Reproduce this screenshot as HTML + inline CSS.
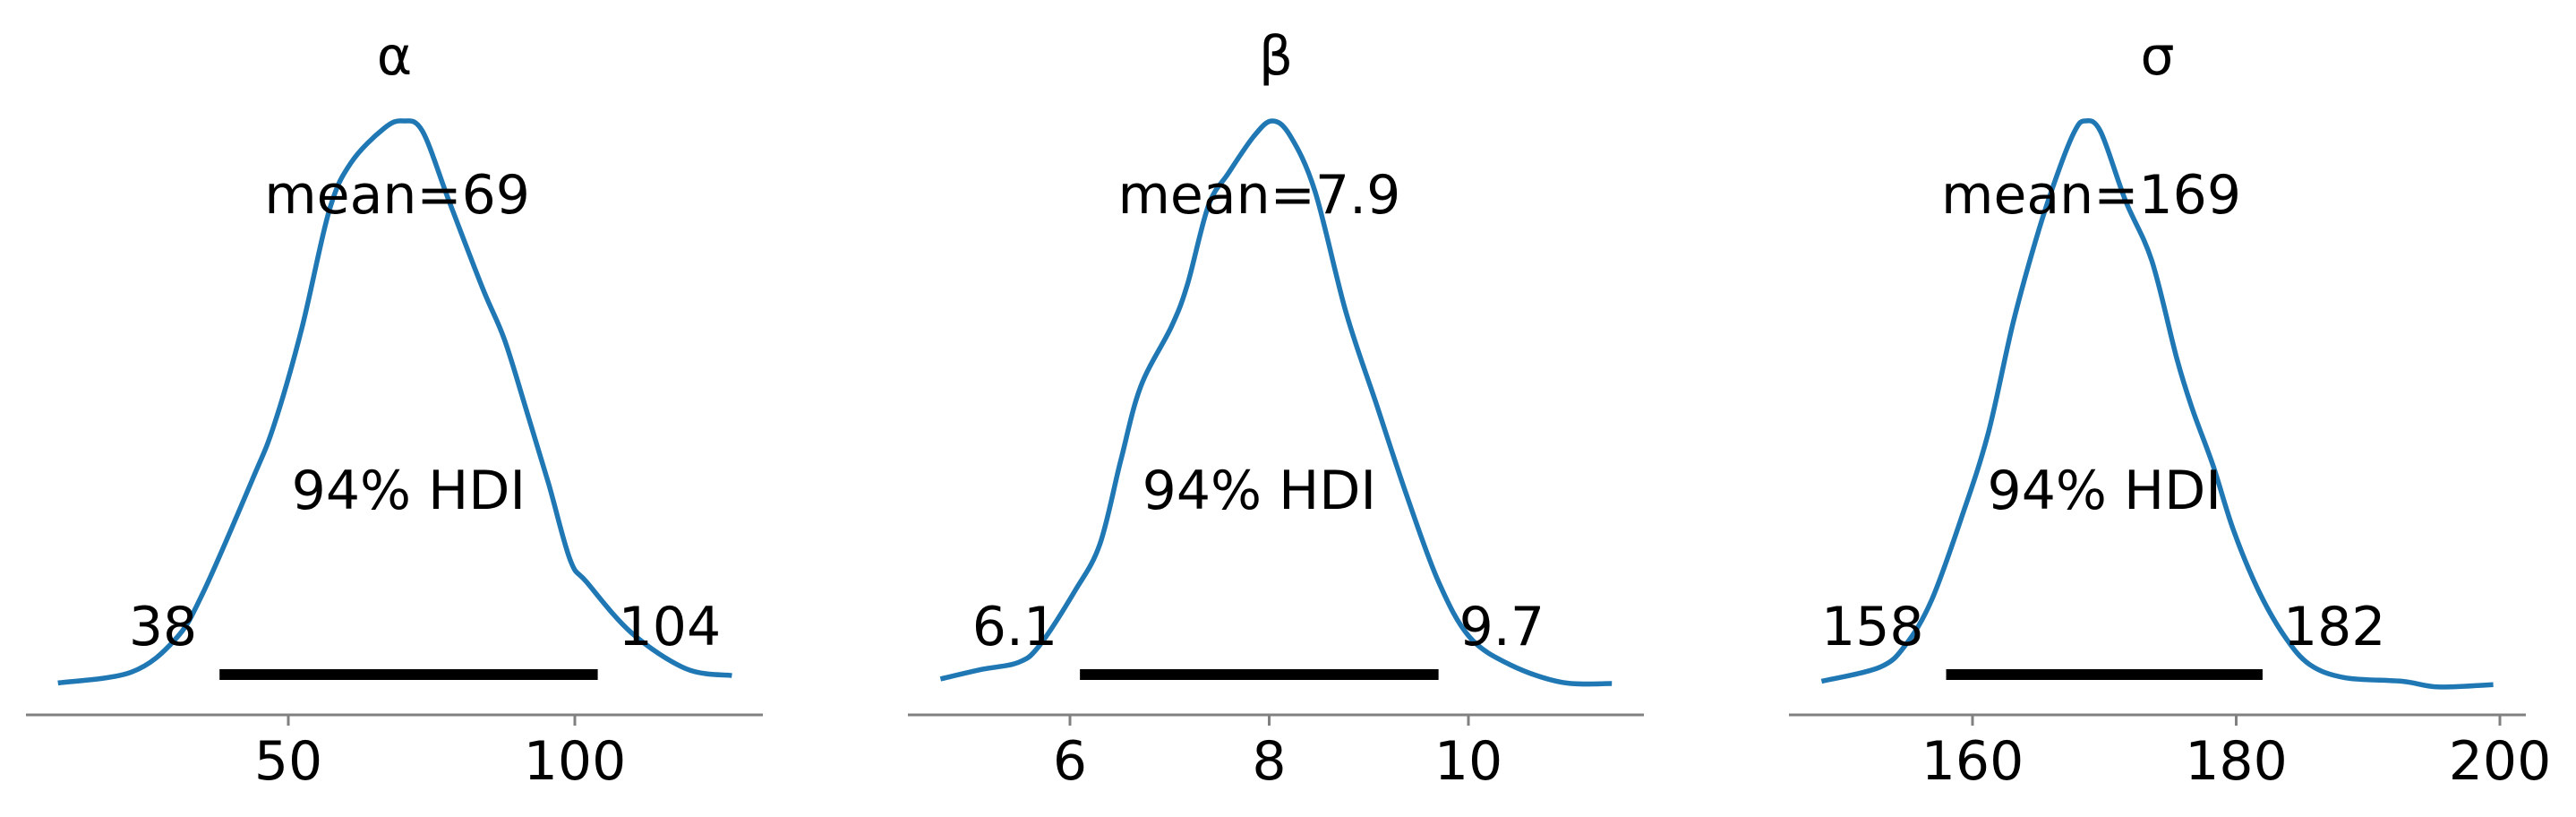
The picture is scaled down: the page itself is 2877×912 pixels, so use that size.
<!DOCTYPE html>
<html><head><meta charset="utf-8"><style>
html,body{margin:0;padding:0;background:#fff;}
svg{display:block;}
text{font-family:"DejaVu Sans","Liberation Sans",sans-serif;fill:#000;}
</style></head><body>
<svg id="chart" width="2877" height="912" viewBox="0 0 2877 912" xmlns="http://www.w3.org/2000/svg"></svg>
<script>
// Panel alpha
const alphaX = [9.8,22.6,30.3,35.1,43.7,47.5,52.3,57.1,60.9,66.7,70.0,73.4,78.1,83.9,87.7,91.5,95.4,99.2,102.1,109.9,119.4,127.4];
const alphaD = [0.012,0.031,0.089,0.17,0.369,0.465,0.633,0.841,0.926,0.987,1.0,0.982,0.858,0.706,0.616,0.493,0.363,0.228,0.189,0.1,0.037,0.025];
const alphaTicks = [50,100];
const alphaHdi = [38,104];
const alphaMean = 69;
// Panel beta
const betaX = [4.70,5.12,5.48,5.69,6.05,6.30,6.51,6.71,7.02,7.18,7.39,7.59,7.85,8.03,8.21,8.46,8.77,9.08,9.39,9.70,10.01,10.42,10.94,11.44];
const betaD = [0.019,0.036,0.048,0.077,0.174,0.256,0.403,0.533,0.639,0.713,0.851,0.908,0.974,1.0,0.974,0.876,0.664,0.5,0.337,0.19,0.093,0.044,0.013,0.011];
const betaTicks = [6,8,10];
const betaHdi = [6.1,9.7];
const betaMean = 7.9;
// Panel sigma
const sigmaX = [148.55,153.0,154.96,156.9,159.2,161.2,163.1,165.05,166.6,167.75,168.5,169.7,171.6,173.6,175.5,176.7,178.25,179.8,181.7,183.7,185.6,188.3,192.6,195.3,199.5];
const sigmaD = [0.015,0.04,0.08,0.158,0.305,0.452,0.647,0.81,0.917,0.982,1.0,0.982,0.86,0.754,0.582,0.492,0.394,0.28,0.174,0.093,0.044,0.021,0.015,0.005,0.009];
const sigmaTicks = [160,180,200];
const sigmaHdi = [158,182];
const sigmaMean = 169;

const titles = ['α','β','σ'];
const meanLabels = ['69','7.9','169'];
const hdiLabels = [['38','104'],['6.1','9.7'],['158','182']];

const NS='http://www.w3.org/2000/svg';
const svg=document.getElementById('chart');
function mk(tag,attrs,parent){const e=document.createElementNS(NS,tag);for(const k in attrs)e.setAttribute(k,attrs[k]);(parent||svg).appendChild(e);return e;}

function smoothPath(pts){
  let d='M'+pts[0][0].toFixed(1)+','+pts[0][1].toFixed(1);
  for(let i=0;i<pts.length-1;i++){
    const p0=pts[Math.max(0,i-1)],p1=pts[i],p2=pts[i+1],p3=pts[Math.min(pts.length-1,i+2)];
    const c1x=p1[0]+(p2[0]-p0[0])/6,c1y=p1[1]+(p2[1]-p0[1])/6;
    const c2x=p2[0]-(p3[0]-p1[0])/6,c2y=p2[1]-(p3[1]-p1[1])/6;
    d+='C'+c1x.toFixed(1)+','+c1y.toFixed(1)+' '+c2x.toFixed(1)+','+c2y.toFixed(1)+' '+p2[0].toFixed(1)+','+p2[1].toFixed(1);
  }
  return d;
}

const panels=[
 {key:'alpha',xs:alphaX,ds:alphaD,ticks:alphaTicks,hdi:alphaHdi,mean:alphaMean,v0:50,p0:322,v1:100,p1:642,ax0:29,ax1:852},
 {key:'beta',xs:betaX,ds:betaD,ticks:betaTicks,hdi:betaHdi,mean:betaMean,v0:6,p0:1195,v1:10,p1:1640,ax0:1014,ax1:1836},
 {key:'sigma',xs:sigmaX,ds:sigmaD,ticks:sigmaTicks,hdi:sigmaHdi,mean:sigmaMean,v0:160,p0:2203,v1:200,p1:2792,ax0:1998,ax1:2821}
];
const BASE=770, TOP=135, AXY=798;
function yScale(d){return BASE-d*(BASE-TOP);}

panels.forEach((p,i)=>{
  const xS=v=>p.p0+(v-p.v0)*(p.p1-p.p0)/(p.v1-p.v0);
  const g=mk('g',{});
  
  
  const cx=(p.ax0+p.ax1)/2;
  const t=mk('text',{x:cx,y:83,'text-anchor':'middle','font-size':60},g);
  t.textContent=titles[i];
  
  
  const pts=p.xs.map((v,j)=>[xS(v),yScale(p.ds[j])]);
  const path=mk('path',{d:smoothPath(pts),fill:'none',stroke:'#1f77b4','stroke-width':5.5,'stroke-linejoin':'round','stroke-linecap':'butt'},g);
  
  
  const hb=mk('line',{x1:xS(p.hdi[0]),x2:xS(p.hdi[1]),y1:753,y2:753,stroke:'#000','stroke-width':12},g);
  
  
  const l1=mk('text',{x:xS(p.hdi[0])-25,y:720,'text-anchor':'end','font-size':60},g);
  l1.textContent=hdiLabels[i][0];
  
  
  const l2=mk('text',{x:xS(p.hdi[1])+23,y:720,'text-anchor':'start','font-size':60},g);
  l2.textContent=hdiLabels[i][1];
  
  
  const hl=mk('text',{x:xS((p.hdi[0]+p.hdi[1])/2),y:568,'text-anchor':'middle','font-size':60},g);
  hl.textContent='94% HDI';
  
  
  const ml=mk('text',{x:xS(p.mean),y:238,'text-anchor':'middle','font-size':60},g);
  ml.textContent='mean='+meanLabels[i];
  
  
  const ax=mk('line',{x1:p.ax0,x2:p.ax1,y1:AXY,y2:AXY,stroke:'#808080','stroke-width':3},g);
  
  
  p.ticks.forEach(tv=>{
    const tk=mk('line',{x1:xS(tv),x2:xS(tv),y1:AXY,y2:AXY+12,stroke:'#808080','stroke-width':3},g);
    
    
    const tl=mk('text',{x:xS(tv),y:870,'text-anchor':'middle','font-size':60},g);
    tl.textContent=String(tv);
    
    
  });
});
</script>
</body></html>
